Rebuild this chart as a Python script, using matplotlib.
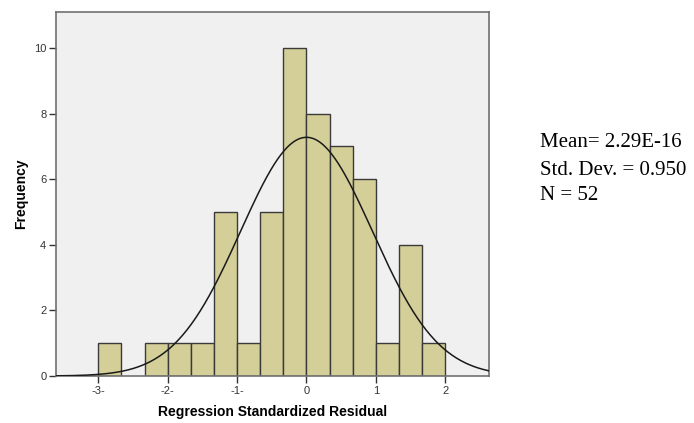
import numpy as np
import matplotlib
matplotlib.use("Agg")
import matplotlib.pyplot as plt

# Data
bin_edges = [-3.0, -8/3, -7/3, -2.0, -5/3, -4/3, -1.0, -2/3, -1/3, 0.0, 1/3, 2/3, 1.0, 4/3, 5/3, 2.0]
counts = [1, 0, 1, 1, 1, 5, 1, 5, 10, 8, 7, 6, 1, 4, 1]
mean_val = 2.29e-16
std_val = 0.950
n_val = 52
xticks = [-3, -2, -1, 0, 1, 2]
xticklabels = ["-3-", "-2-", "-1-", "0", "1", "2"]
yticks = [0, 2, 4, 6, 8, 10]

plt.rcParams['font.family'] = ['Liberation Sans', 'DejaVu Sans']

fig = plt.figure(figsize=(6.94, 4.23), dpi=100)
ax = fig.add_axes([0.0807, 0.1111, 0.6239, 0.8605])
ax.set_facecolor('#F0F0F0')

edges = np.array(bin_edges)
widths = np.diff(edges)
for left, w, c in zip(edges[:-1], widths, counts):
    if c > 0:
        ax.bar(left, c, width=w, align='edge', color='#D4CF98',
               edgecolor='#3a3a3a', linewidth=1.0, zorder=2)

xlim = (-3.61, 2.63)
xs = np.linspace(xlim[0], xlim[1], 400)
bw = widths[0]
ys = n_val * bw / (std_val * np.sqrt(2 * np.pi)) * np.exp(-0.5 * ((xs - mean_val) / std_val) ** 2)
ax.plot(xs, ys, color='#1a1a1a', linewidth=1.1, zorder=3)

ax.set_xlim(*xlim)
ax.set_ylim(0, 11.1)
ax.set_xticks(xticks)
ax.set_xticklabels(xticklabels)
ax.set_yticks(yticks)
ax.tick_params(axis='both', direction='out', length=5, width=1, color='#333333',
               labelsize=8, labelcolor='#333333', pad=2)
for s in ax.spines.values():
    s.set_color('#707070')
    s.set_linewidth(1.2)

ax.set_xlabel('Regression Standardized Residual', fontsize=10, fontweight='bold', labelpad=7)
ax.set_ylabel('Frequency', fontsize=10, fontweight='bold', labelpad=4)

serif = ['Liberation Serif', 'DejaVu Serif']
fig.text(0.778, 0.662, f"Mean= {mean_val:.2E}", family=serif, fontsize=15, va='center')
fig.text(0.778, 0.598, f"Std. Dev. = {std_val:.3f}", family=serif, fontsize=15, va='center')
fig.text(0.778, 0.538, f"N = {n_val}", family=serif, fontsize=15, va='center')

fig.savefig('out.png', dpi=100)
